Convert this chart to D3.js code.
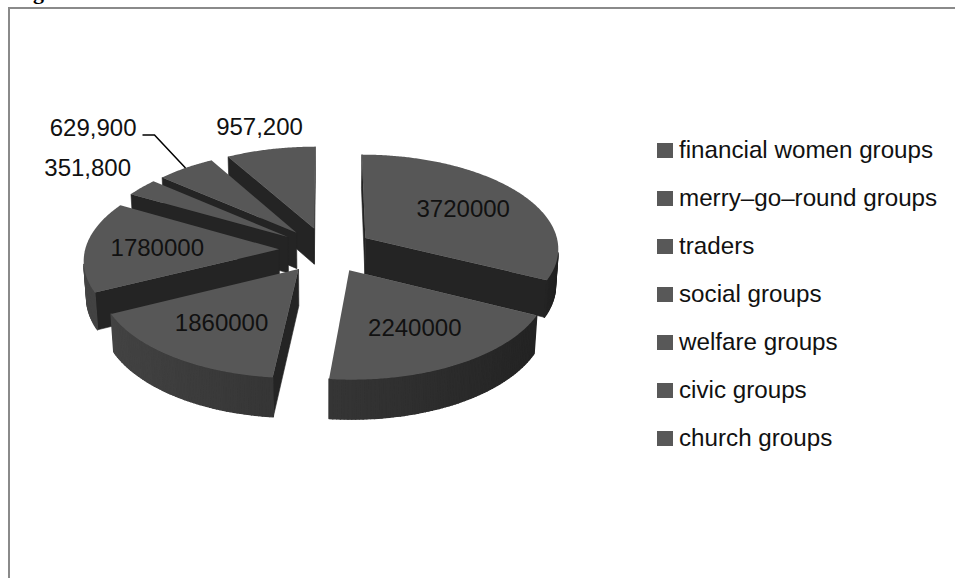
<!DOCTYPE html>
<html>
<head>
<meta charset="utf-8">
<script src="https://cdn.jsdelivr.net/npm/d3@7"></script>
<style>
  html, body { margin: 0; padding: 0; background: #fff; }
  svg { display: block; }
</style>
</head>
<body>
<svg id="chart" width="955" height="578"></svg>
<script>
// Savings by group type
const categories = [
  "financial women groups",
  "merry–go–round groups",
  "traders",
  "social groups",
  "welfare groups",
  "civic groups",
  "church groups"
];
const values = [3720000, 2240000, 1860000, 1780000, 351800, 629900, 957200];

const svg = d3.select("#chart");
const FONT = "'Liberation Sans', Arial, sans-serif";

// caption fragment at the top edge and the chart frame
svg.append("text").attr("x", 33).attr("y", -1)
  .attr("font-family", "'Liberation Serif', 'Times New Roman', serif")
  .attr("font-weight", "bold").attr("font-size", 22).text("g");
svg.append("path").attr("d", "M9,578V8H955")
  .attr("fill", "none").attr("stroke", "#8a8a8a").attr("stroke-width", 2);

// 3-D pie geometry (world units: X right, Y up, Z toward the viewer)
const cx = 326, cy = 250, R = 194, depth = 42, explode = 47;
const tilt = 29 * Math.PI / 180, dist = 1700;
const sinT = Math.sin(tilt), cosT = Math.cos(tilt);
const cam = [0, dist * sinT, dist * cosT];

function proj(p) {
  const [X, Y, Z] = p;
  const ys = Z * sinT - Y * cosT;
  const dz = Z * cosT + Y * sinT;
  const f = dist / (dist - dz);
  return [cx + X * f, cy + ys * f];
}
function facing(n, p) {
  return n[0] * (cam[0] - p[0]) + n[1] * (cam[1] - p[1]) + n[2] * (cam[2] - p[2]) > 0;
}
const poly = pts => d3.line()(pts.map(proj)) + "Z";

const arcs = d3.pie().sort(null).value(d => d)(values);
const total = d3.sum(values);
const slices = arcs.map((a, i) => {
  const mid = (a.startAngle + a.endAngle) / 2;
  return {
    i, value: a.value, a0: a.startAngle, a1: a.endAngle, mid,
    ox: explode * Math.sin(mid), oz: -explode * Math.cos(mid)
  };
});
const rim = (s, t, r, Y) => [s.ox + r * Math.sin(t), Y, s.oz - r * Math.cos(t)];

const topFill = "#575757", cutFill = "#242424";
function wallShade(t) {
  const L = 50 - 18 * Math.sin(t + 5 * Math.PI / 180);
  return d3.rgb(L, L, L).formatHex();
}

const pieG = svg.append("g");
slices.slice().sort((a, b) => a.oz - b.oz).forEach(s => {
  const g = pieG.append("g");
  const cTop = [s.ox, 0, s.oz], cBot = [s.ox, -depth, s.oz];

  // radial cut faces
  const faces = [
    { n: [-Math.cos(s.a0), 0, -Math.sin(s.a0)], pts: [cTop, rim(s, s.a0, R, 0), rim(s, s.a0, R, -depth), cBot] },
    { n: [Math.cos(s.a1), 0, Math.sin(s.a1)], pts: [cTop, rim(s, s.a1, R, 0), rim(s, s.a1, R, -depth), cBot] }
  ];
  faces.forEach(f => {
    if (facing(f.n, cTop)) {
      g.append("path").attr("d", poly(f.pts))
        .attr("fill", cutFill).attr("stroke", cutFill).attr("stroke-width", 0.6);
    }
  });

  // curved outer wall: visible angles only, a base band then fine shaded strips
  const step = 1 * Math.PI / 180;
  const nSeg = Math.max(1, Math.ceil((s.a1 - s.a0) / step));
  const segs = [];
  for (let k = 0; k < nSeg; k++) {
    const t0 = s.a0 + (s.a1 - s.a0) * k / nSeg;
    const t1 = s.a0 + (s.a1 - s.a0) * (k + 1) / nSeg;
    const tm = (t0 + t1) / 2;
    if (facing([Math.sin(tm), 0, -Math.cos(tm)], rim(s, tm, R, 0))) segs.push([t0, t1, tm]);
  }
  if (segs.length) {
    const ts = [segs[0][0]].concat(segs.map(d => d[1]));
    const band = ts.map(t => rim(s, t, R, 0)).concat(ts.slice().reverse().map(t => rim(s, t, R, -depth)));
    const midC = wallShade(segs[Math.floor(segs.length / 2)][2]);
    g.append("path").attr("d", poly(band)).attr("fill", midC);
    segs.forEach(([t0, t1, tm]) => {
      const c = wallShade(tm);
      g.append("path")
        .attr("d", poly([rim(s, t0, R, 0), rim(s, t1, R, 0), rim(s, t1, R, -depth), rim(s, t0, R, -depth)]))
        .attr("fill", c).attr("stroke", c).attr("stroke-width", 1.4).attr("stroke-linejoin", "round");
    });
  }

  // top surface
  const topPts = [cTop];
  const nTop = Math.max(2, Math.ceil((s.a1 - s.a0) / (0.5 * Math.PI / 180)));
  for (let k = 0; k <= nTop; k++) topPts.push(rim(s, s.a0 + (s.a1 - s.a0) * k / nTop, R, 0));
  g.append("path").attr("d", poly(topPts)).attr("fill", topFill);
});

// data labels
const labelG = svg.append("g").attr("font-family", FONT).attr("font-size", 24).attr("fill", "#111");
const callout = {
  "church groups": { dx: -11, dy: -23 },
  "welfare groups": { dx: -54, dy: -20 }
};
slices.forEach(s => {
  const share = s.value / total;
  if (share >= 0.1) {
    const [x, y] = proj(rim(s, s.mid, 0.63 * R, 0));
    labelG.append("text").attr("x", x).attr("y", y).attr("dy", "0.35em")
      .attr("text-anchor", "middle").text(d3.format("d")(s.value));
  } else {
    const [ax, ay] = proj(rim(s, s.mid, R, 0));
    const txt = d3.format(",")(s.value);
    const c = callout[categories[s.i]];
    if (c) {
      labelG.append("text").attr("x", ax + c.dx).attr("y", ay + c.dy).attr("dy", "0.35em")
        .attr("text-anchor", "middle").text(txt);
    } else {
      // leader line to a label on the left
      const bx = ax - 31, by = ay - 33, ex = bx - 12;
      svg.append("path").attr("d", d3.line()([[ax, ay], [bx, by], [ex, by]]))
        .attr("fill", "none").attr("stroke", "#000").attr("stroke-width", 1.5);
      labelG.append("text").attr("x", ex - 6).attr("y", by - 7.5).attr("dy", "0.35em")
        .attr("text-anchor", "end").text(txt);
    }
  }
});

// legend
const legend = svg.append("g").attr("font-family", FONT).attr("font-size", 24.2).attr("fill", "#111");
categories.forEach((c, i) => {
  const base = 158 + 48 * i;
  legend.append("rect").attr("x", 657).attr("y", base - 15).attr("width", 16).attr("height", 15)
    .attr("fill", "#585858");
  legend.append("text").attr("x", 679).attr("y", base).text(c);
});
</script>
</body>
</html>
